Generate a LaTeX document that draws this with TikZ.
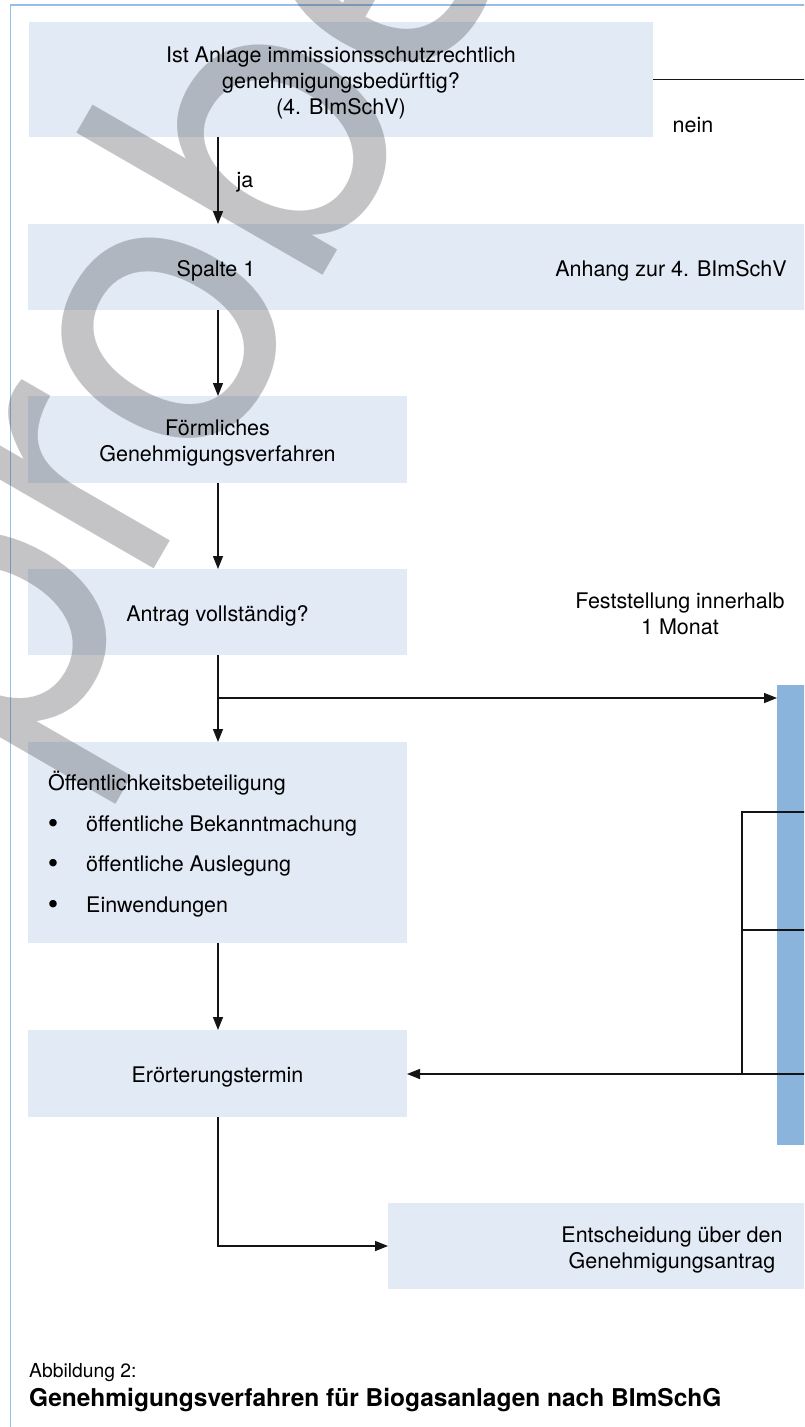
\documentclass[tikz,border=0pt]{standalone}
\usepackage{fontspec}
\setmainfont{TeX Gyre Heros}
\usetikzlibrary{arrows.meta}
\definecolor{boxfill}{RGB}{226,234,245}
\definecolor{barblue}{RGB}{138,180,220}
\definecolor{framec}{RGB}{150,190,228}
\definecolor{wmark}{RGB}{60,62,70}
\definecolor{linec}{RGB}{20,20,20}
\begin{document}
\begin{tikzpicture}[x=1pt,y=-1pt,
  box/.style={fill=boxfill, draw=none, inner sep=0pt, outer sep=0pt},
  txt/.style={font=\fontsize{21.5}{26}\selectfont, align=center, inner sep=0pt, text=black},
  txtc/.style={txt, yshift=-3.5pt},
  bul/.style={font=\fontsize{30}{30}\selectfont, inner sep=0pt, anchor=base},
  conn/.style={draw=linec, line width=1.4pt},
  arr/.style={conn, -{Triangle[length=13pt,width=10pt]}},
]
\useasboundingbox (0,0) rectangle (804,1427);
\clip (0,0) rectangle (804,1427);
\fill[white] (0,0) rectangle (804,1427);
% frame
\draw[framec, line width=1.5pt] (10.5,1430) -- (10.5,5) -- (810,5);
% boxes
\node[box, minimum width=624pt, minimum height=115pt] (b1) at (341,79.5) {};
\node[box, minimum width=802pt, minimum height=86pt] (b2) at (429,267) {};
\node[box, minimum width=379pt, minimum height=87pt] (b3) at (217.5,439.5) {};
\node[box, minimum width=379pt, minimum height=86pt] (b4) at (217.5,612) {};
\node[box, minimum width=379pt, minimum height=201pt] (b5) at (217.5,842.5) {};
\node[box, minimum width=379pt, minimum height=87pt] (b6) at (217.5,1073.5) {};
\node[box, minimum width=568pt, minimum height=86pt] (b7) at (672,1246) {};
\node[fill=barblue, inner sep=0pt, outer sep=0pt, minimum width=53pt, minimum height=460pt] (bar) at (803.5,915) {};
% watermark
\node[rotate=60, anchor=base west, text=wmark, text opacity=0.3, inner sep=0pt,
      font=\fontsize{390}{390}\selectfont] (wm) at (-391,1513) {Leseprobe};
% texts
\node[txtc] (t1) at (b1) {Ist Anlage immissionsschutzrechtlich\\genehmigungsbedürftig?\\(4. BImSchV)};
\node[txt] (nein) at (693,125) {nein};
\node[txt] (ja) at (245,182.5) {ja};
\node[txtc] (t2a) at (216,267) {Spalte 1};
\node[txtc] (t2b) at (671,267) {Anhang zur 4. BImSchV};
\node[txtc] (t3) at (b3) {Förmliches\\Genehmigungsverfahren};
\node[txtc] (t4) at (b4) {Antrag vollständig?};
\node[txt] (fest) at (680,613.5) {Feststellung innerhalb\\1 Monat};
\node[txt, anchor=base west] (t5) at (48,790) {Öffentlichkeitsbeteiligung};
\node[bul] (u1) at (53,833) {•};
\node[bul] (u2) at (53,873) {•};
\node[bul] (u3) at (53,914) {•};
\node[txt, anchor=base west] (i1) at (86,831) {öffentliche Bekanntmachung};
\node[txt, anchor=base west] (i2) at (86,871) {öffentliche Auslegung};
\node[txt, anchor=base west] (i3) at (86,912) {Einwendungen};
\node[txtc] (t6) at (b6) {Erörterungstermin};
\node[txtc] (t7) at (b7) {Entscheidung über den\\Genehmigungsantrag};
\node[anchor=base west, inner sep=0pt, font=\fontsize{19.3}{22}\selectfont] (cap1) at (29,1377) {Abbildung 2:};
\node[anchor=base west, inner sep=0pt, font=\fontsize{24.5}{28}\selectfont\bfseries] (cap2) at (29,1406) {Genehmigungsverfahren für Biogasanlagen nach BImSchG};
% connectors
\coordinate (col) at (218,0);
\coordinate (fx) at (742,0);
\coordinate (r1) at (815,79.5);
\coordinate (br) at (218,698);
\coordinate (f1) at (815,812);
\coordinate (f2) at (815,930);
\coordinate (f3) at (815,1074);
\draw[conn] (b1.east) -- (r1);
\draw[arr] (b1.south -| col) -- (b2.north -| col);
\draw[arr] (b2.south -| col) -- (b3.north -| col);
\draw[arr] (b3.south -| col) -- (b4.north -| col);
\draw[arr] (b4.south -| col) -- (b5.north -| col);
\draw[arr] (br) -- (br -| bar.west);
\draw[arr] (b5.south -| col) -- (b6.north -| col);
\draw[conn] (f1) -- (f1 -| fx) -- (f3 -| fx);
\draw[conn] (f2) -- (f2 -| fx);
\draw[arr] (f3) -- (f3 -| b6.east);
\draw[arr] (b6.south -| col) |- (b7.west);
\end{tikzpicture}
\end{document}
